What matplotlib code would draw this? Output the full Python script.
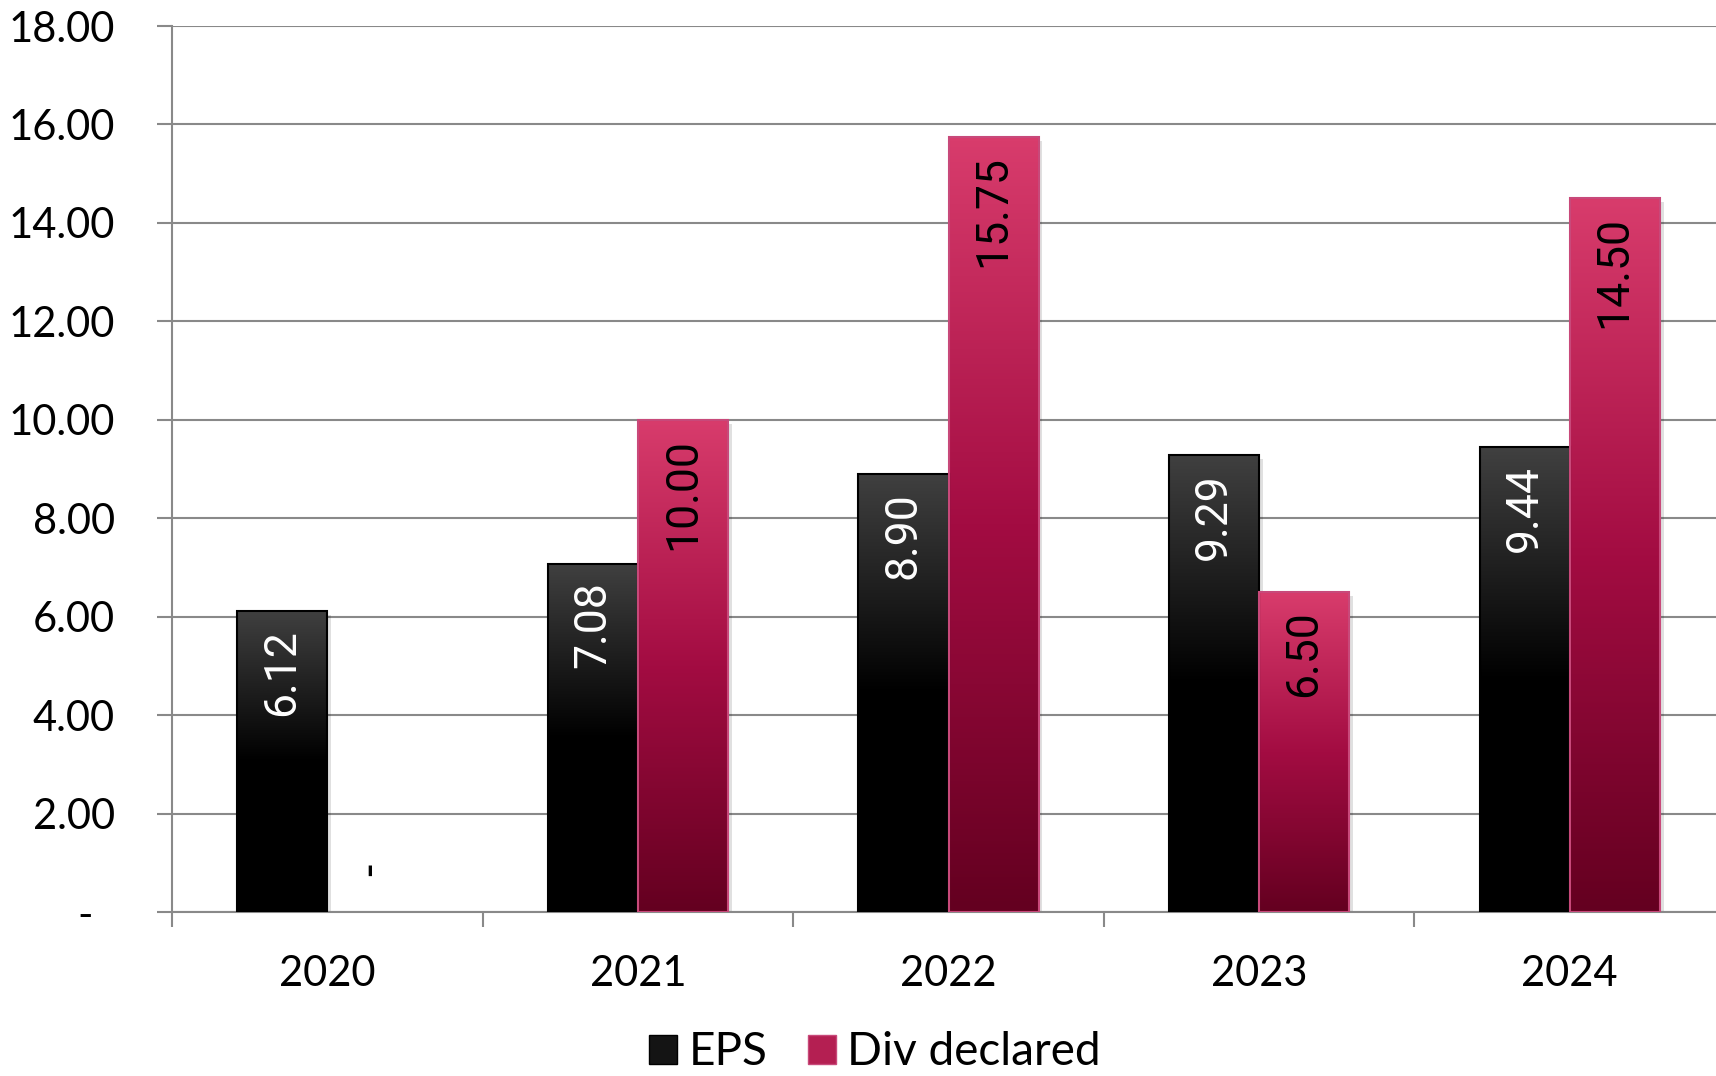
import numpy as np
import matplotlib
matplotlib.use("Agg")
import matplotlib.pyplot as plt
from matplotlib.colors import LinearSegmentedColormap
from matplotlib.patches import Rectangle
from matplotlib.ticker import FuncFormatter

years = ["2020", "2021", "2022", "2023", "2024"]
eps = [6.12, 7.08, 8.90, 9.29, 9.44]
div_declared = [0.0, 10.00, 15.75, 6.50, 14.50]
series_names = ["EPS", "Div declared"]

GRID = "#898989"

# per-bar vertical gradients (bottom -> top)
eps_cmap = LinearSegmentedColormap.from_list(
    "eps", [(0.0, "#000000"), (0.5, "#000000"), (1.0, "#404040")])
div_cmap = LinearSegmentedColormap.from_list(
    "div", [(0.0, "#640020"), (0.5, "#a30c42"), (1.0, "#d83c6c")])

fig = plt.figure(figsize=(17.16, 10.76), dpi=100)
ax = fig.add_axes([172 / 1716, 0.1524, (1725 - 172) / 1716, 0.8234])

x = np.arange(len(years))
w = 0.29


def gradient_bars(bars, cmap, edge):
    grad = np.linspace(0, 1, 256).reshape(-1, 1)
    for b in bars:
        x0, y0 = b.get_x(), b.get_y()
        bw, bh = b.get_width(), b.get_height()
        if bh <= 0:
            continue
        # soft shadow
        ax.add_patch(Rectangle((x0 + 0.012, y0), bw, bh - 0.08, facecolor="#000000",
                               alpha=0.12, edgecolor="none", zorder=2))
        ax.imshow(grad, extent=[x0, x0 + bw, y0, y0 + bh], origin="lower",
                  cmap=cmap, aspect="auto", zorder=3, interpolation="bicubic")
        b.set_facecolor("none")
        b.set_edgecolor(edge)
        b.set_linewidth(1.5)
        b.set_zorder(4)


b1 = ax.bar(x - w / 2, eps, w)
b2 = ax.bar(x + w / 2, div_declared, w)
gradient_bars(b1, eps_cmap, "#000000")
gradient_bars(b2, div_cmap, "#c8497a")

# data labels, rotated, inside end
for xs, vals, col in [(x - w / 2, eps, "white"), (x + w / 2, div_declared, "black")]:
    for xi, v in zip(xs, vals):
        if v == 0:
            ax.annotate("-", (xi, v), xytext=(0, 26), textcoords="offset points",
                        rotation=90, ha="center", va="bottom", color=col,
                        fontsize=32, family="Roboto", zorder=5)
        else:
            ax.annotate(f"{v:.2f}", (xi, v), xytext=(0, -13), textcoords="offset points",
                        rotation=90, ha="center", va="top", color=col,
                        fontsize=32, family="Roboto", zorder=5)

ax.set_xlim(-0.5, len(years) - 0.5)
ax.set_ylim(0, 18)
ax.set_yticks(np.arange(0, 19, 2))
ax.yaxis.set_major_formatter(FuncFormatter(lambda v, p: "-  " if v == 0 else f"{v:.2f}"))
ax.yaxis.grid(True, color=GRID, linewidth=1.5, zorder=0)
ax.set_axisbelow(True)

ax.set_xticks(x)
ax.set_xticklabels(years)
ax.set_xticks(np.arange(-0.5, len(years)), minor=True)
ax.tick_params(axis="x", which="major", length=0, pad=31, labelsize=30)
ax.tick_params(axis="x", which="minor", length=11, width=1.5, color=GRID)
ax.tick_params(axis="y", length=11, width=1.5, color=GRID, pad=30, labelsize=30)
for lab in ax.get_xticklabels() + ax.get_yticklabels():
    lab.set_family("Lato")

for s in ["top", "right"]:
    ax.spines[s].set_visible(False)
for s in ["left", "bottom"]:
    ax.spines[s].set_color(GRID)
    ax.spines[s].set_linewidth(1.5)

handles = [Rectangle((0, 0), 1, 1, facecolor="#141414", edgecolor="#000000"),
           Rectangle((0, 0), 1, 1, facecolor="#b41f52", edgecolor="#c8497a")]
fig.legend(handles, series_names, loc="center", bbox_to_anchor=(0.51, 0.022),
           ncol=2, frameon=False, prop={"family": "Lato", "size": 33},
           handlelength=0.6, handleheight=0.6, handletextpad=0.25, columnspacing=0.9)

fig.savefig("out.png", dpi=100)
